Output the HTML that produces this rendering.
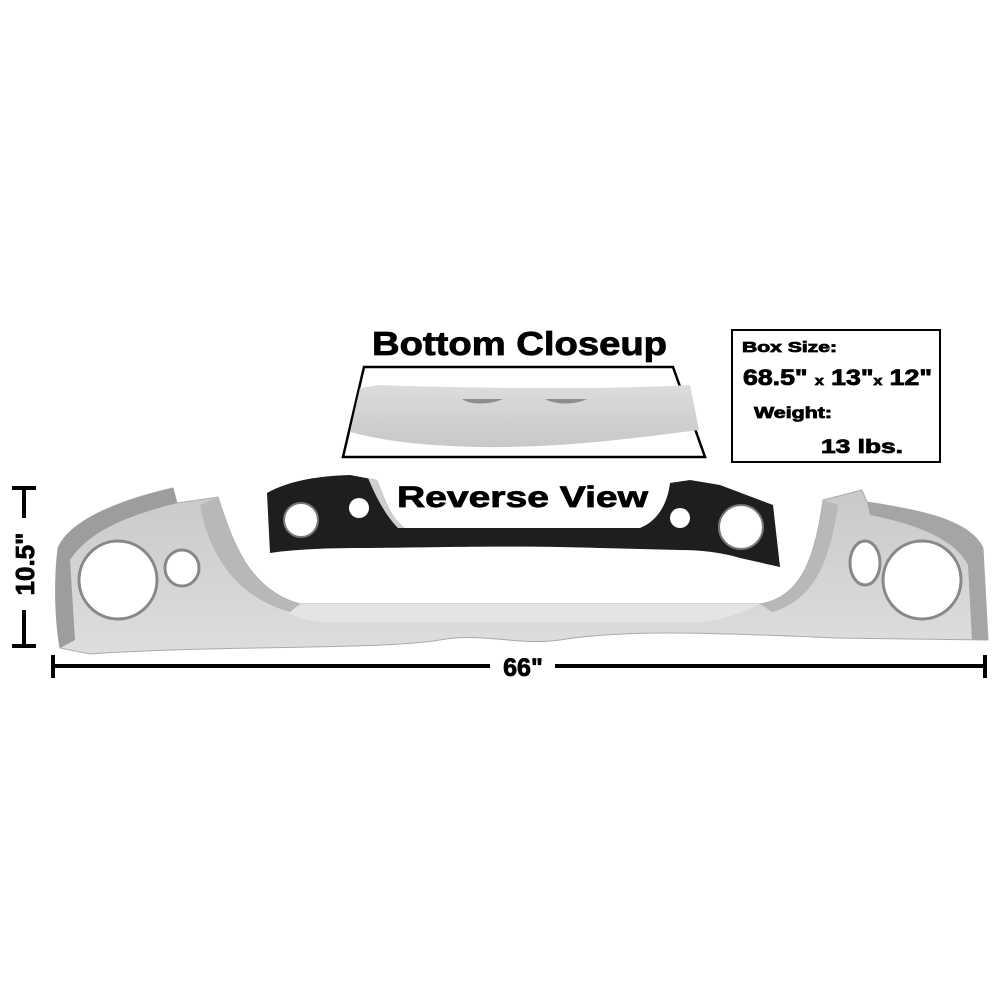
<!DOCTYPE html>
<html><head><style>
html,body{margin:0;padding:0;background:#fff;width:1000px;height:1000px;overflow:hidden}
svg{display:block}
text{font-family:"Liberation Sans",Arial,sans-serif;font-weight:bold;fill:#000;stroke:#000;stroke-width:0.8}
</style></head><body>
<svg width="1000" height="1000" viewBox="0 0 1000 1000" xmlns="http://www.w3.org/2000/svg">
<defs>
<linearGradient id="g1" x1="0" y1="0" x2="0" y2="1">
<stop offset="0" stop-color="#c9c9c9"/><stop offset="1" stop-color="#dedede"/></linearGradient>
<linearGradient id="g2" x1="0" y1="0" x2="0" y2="1">
<stop offset="0" stop-color="#dcdcdc"/><stop offset="1" stop-color="#c8c8c8"/></linearGradient>
</defs>

<path d="M58,548 C70,520 120,500 173,488 L177,503 L218,497 C232,540 248,590 300,604 L760,604 C800,598 815,560 823,500 L862,490 L867,502 C920,510 970,520 983,548 L988,640 L835,638 C700,632 620,630 560,640 C520,646 480,632 440,640 C380,650 220,645 90,654 L60,648 C55,620 54,580 58,548 Z" fill="url(#g1)" stroke="#aaa" stroke-width="1"/>
<path d="M300,604 L760,604 C740,614 720,620 700,622 L320,622 C300,620 285,612 275,605 Z" fill="#e4e4e4"/>
<path d="M58,548 C70,520 120,500 173,488 L177,503 C130,515 90,530 70,560 L75,640 L60,648 C55,620 54,580 58,548 Z" fill="#9d9d9d"/>
<path d="M983,548 C970,520 920,510 867,502 L870,515 C920,525 955,540 968,565 L972,640 L988,640 Z" fill="#a5a5a5"/>
<path d="M218,497 C232,540 248,590 300,604 L290,612 C240,598 210,560 200,505 Z" fill="#b8b8b8"/>
<path d="M823,500 C815,560 800,598 760,604 L772,612 C815,600 830,560 838,505 Z" fill="#b8b8b8"/>
<circle cx="118" cy="580" r="39" fill="#fff" stroke="#888" stroke-width="3"/>
<ellipse cx="182" cy="568" rx="17" ry="18" fill="#fff" stroke="#888" stroke-width="3"/>
<circle cx="922" cy="580" r="39" fill="#fff" stroke="#888" stroke-width="3"/>
<ellipse cx="865" cy="563" rx="15" ry="22" fill="#fff" stroke="#888" stroke-width="3"/>

<path d="M267,493 C290,480 320,476 350,475 L377,480 C385,500 392,520 405,528 L640,528 C660,520 668,500 670,483 L690,480 L720,485 L773,505 L780,567 L740,558 C720,552 700,550 680,550 L600,548 C500,545 420,548 360,548 C320,548 290,550 270,553 Z" fill="#1e1e1e"/>
<path d="M350,475 L377,480 C385,500 392,520 405,528 L398,528 C385,515 375,495 368,478 Z" fill="#cfcfcf"/>
<circle cx="301" cy="520" r="17" fill="#fff" stroke="#777" stroke-width="2"/>
<circle cx="359" cy="508" r="10" fill="#fff"/>
<circle cx="680" cy="518" r="10" fill="#fff"/>
<circle cx="741" cy="527" r="22" fill="#fff" stroke="#777" stroke-width="2"/>

<text x="372" y="355" font-size="33" textLength="295" lengthAdjust="spacingAndGlyphs">Bottom Closeup</text>
<polygon points="364,367 673,367 705,457 343,457" fill="#fff" stroke="#000" stroke-width="2.5"/>
<path d="M360,388 L380,385 C450,388 600,390 690,385 L699,430 C620,440 560,448 480,447 C420,446 380,440 350,432 Z" fill="url(#g2)"/>
<path d="M462,399 C470,405 490,405 503,399 Z" fill="#8d8d8d"/>
<path d="M545,399 C555,405 575,405 587,399 Z" fill="#8d8d8d"/>

<text x="397" y="507" font-size="30" textLength="251" lengthAdjust="spacingAndGlyphs">Reverse View</text>

<rect x="732" y="330" width="208" height="132" fill="#fff" stroke="#000" stroke-width="2"/>
<text x="742" y="352" font-size="15" textLength="95" lengthAdjust="spacingAndGlyphs" stroke-width="0.6">Box Size:</text>
<text x="743" y="385" font-size="22" textLength="189" lengthAdjust="spacingAndGlyphs">68.5" <tspan font-size="13">x</tspan> 13"<tspan font-size="13">x</tspan> 12"</text>
<text x="754" y="418" font-size="16" textLength="78" lengthAdjust="spacingAndGlyphs" stroke-width="0.6">Weight:</text>
<text x="821" y="453" font-size="19" textLength="82" lengthAdjust="spacingAndGlyphs">13 lbs.</text>

<line x1="52" y1="666" x2="490" y2="666" stroke="#000" stroke-width="4"/>
<line x1="555" y1="666" x2="986" y2="666" stroke="#000" stroke-width="4"/>
<line x1="53" y1="655" x2="53" y2="678" stroke="#000" stroke-width="4"/>
<line x1="985" y1="655" x2="985" y2="678" stroke="#000" stroke-width="4"/>
<text x="523" y="676" font-size="25" text-anchor="middle">66"</text>
<line x1="24" y1="488" x2="24" y2="518" stroke="#000" stroke-width="4"/>
<line x1="24" y1="610" x2="24" y2="646" stroke="#000" stroke-width="4"/>
<line x1="12" y1="488" x2="36" y2="488" stroke="#000" stroke-width="4"/>
<line x1="12" y1="646" x2="36" y2="646" stroke="#000" stroke-width="4"/>
<text transform="translate(34,564) rotate(-90)" font-size="26" text-anchor="middle">10.5"</text>
</svg>
</body></html>
